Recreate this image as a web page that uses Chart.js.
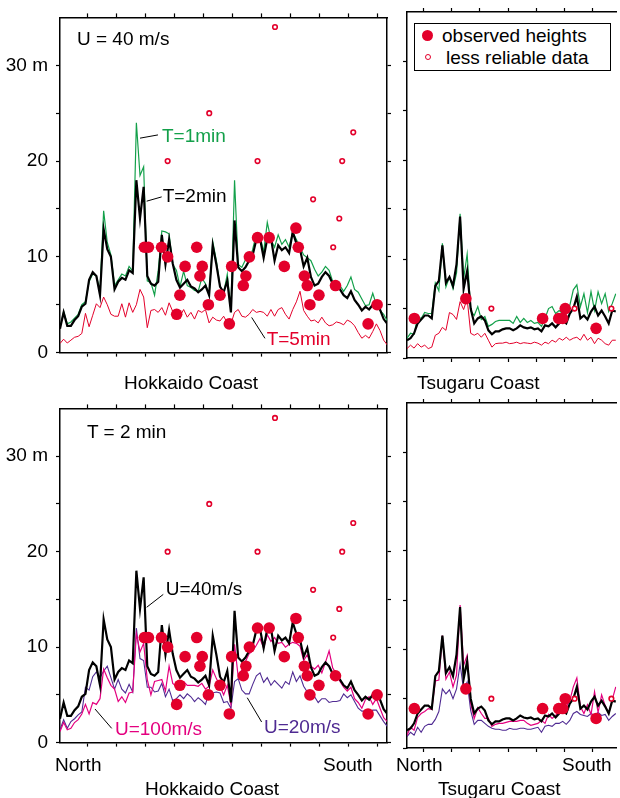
<!DOCTYPE html>
<html>
<head>
<meta charset="utf-8">
<script src="https://cdn.jsdelivr.net/npm/chart.js"></script>
<style>
html, body { margin: 0; padding: 0; background: #fff; overflow: hidden; }
#page { position: relative; width: 620px; height: 798px; overflow: hidden; background: #fff; }
#page canvas { position: absolute; }
.txt { position: absolute; font: 19px "Liberation Sans", Arial, sans-serif; line-height: 19px; white-space: nowrap; color: #000; }
#legend { position: absolute; left: 414px; top: 23px; width: 197px; height: 48px; box-sizing: border-box; border: 1.4px solid #000; background: #fff; }
.dot { position: absolute; border-radius: 50%; box-sizing: border-box; }
</style>
</head>
<body>
<div id="page"></div>
<script>
// === Donnees ===
const STEP = 1.25; // km entre deux points de calcul

// Hokkaido (nord -> sud), hauteurs calculees en m
const hokT1 = [2.6, 4.3, 3.0, 3.2, 3.6, 4.0, 5.0, 5.3, 7.4, 8.2,
  8.0, 6.5, 14.8, 11.5, 10.2, 7.0, 7.6, 8.2, 8.0, 9.0,
  8.5, 24.0, 18.5, 19.4, 7.5, 7.3, 6.0, 8.5, 12.7, 12.6,
  12.4, 9.2, 8.6, 6.9, 8.5, 7.0, 6.8, 6.5, 6.4, 7.8,
  7.2, 6.0, 11.6, 9.6, 6.9, 6.2, 8.2, 4.4, 18.0, 9.2,
  8.9, 9.7, 9.5, 10.8, 12.4, 12.2, 10.5, 13.6, 11.8, 11.0,
  12.3, 11.3, 11.8, 11.0, 12.6, 11.8, 11.0, 10.2, 9.9, 9.6,
  8.7, 8.0, 8.4, 9.0, 8.6, 7.4, 7.4, 7.0, 6.4, 7.0,
  7.9, 6.6, 6.3, 5.6, 4.9, 5.0, 6.2, 5.0, 4.4, 4.0, 3.3];
const hokT2 = [2.5, 4.2, 2.8, 2.8, 3.4, 3.8, 4.8, 5.1, 7.6, 8.4,
  8.0, 6.0, 12.9, 10.8, 10.0, 6.6, 7.4, 7.8, 7.6, 8.6,
  8.3, 18.0, 14.0, 17.3, 8.0, 7.2, 7.0, 7.4, 12.3, 9.2,
  11.8, 9.3, 7.6, 6.8, 7.2, 7.6, 6.9, 6.7, 6.3, 6.6,
  7.0, 6.0, 11.2, 9.2, 6.9, 6.3, 7.5, 4.2, 13.8, 8.9,
  8.5, 8.9, 9.6, 10.2, 11.8, 11.9, 9.9, 11.9, 12.0, 9.6,
  11.2, 10.7, 11.0, 10.4, 12.6, 11.4, 10.8, 9.0, 9.9, 7.9,
  7.0, 7.2, 7.9, 8.4, 8.0, 7.2, 7.0, 6.6, 6.0, 5.7,
  6.4, 5.5, 5.0, 4.4, 4.8, 4.5, 5.0, 4.7, 4.5, 3.5, 3.0];
const hokT5 = [0.95, 1.4, 1.0, 1.3, 1.6, 1.7, 2.0, 4.1, 2.7, 3.9,
  5.1, 4.7, 5.8, 5.0, 4.0, 3.8, 3.8, 5.1, 3.7, 5.2,
  4.2, 5.0, 6.6, 5.8, 2.6, 4.4, 4.5, 4.2, 4.7, 3.9,
  5.2, 4.3, 4.2, 3.8, 4.5, 3.7, 4.2, 3.5, 4.4, 4.2,
  4.5, 3.1, 3.7, 3.4, 3.3, 3.8, 3.1, 3.0, 4.2, 4.5,
  3.8, 3.7, 4.0, 4.5, 4.2, 4.3, 4.2, 3.8, 4.5, 3.8,
  4.5, 4.7, 4.0, 3.5, 4.5, 5.3, 6.4, 4.4, 3.8, 3.3,
  3.4, 3.1, 3.7, 3.1, 2.8, 2.9, 3.2, 3.1, 2.9, 3.4,
  3.2, 2.8, 2.1, 1.5, 1.8, 1.5, 2.2, 3.0, 2.3, 1.3, 0.8];
const hokU100 = [1.15, 2.1, 1.35, 1.5, 2.1, 2.4, 3.0, 4.0, 3.0, 4.2,
  4.0, 4.6, 7.7, 6.8, 6.0, 5.6, 4.3, 4.8, 4.2, 5.2,
  5.3, 11.4, 9.5, 10.4, 6.6, 5.0, 6.4, 6.5, 6.6, 5.4,
  8.0, 6.2, 5.9, 6.1, 6.4, 6.0, 6.0, 6.0, 5.9, 6.2,
  5.6, 5.9, 7.6, 6.7, 5.9, 5.0, 6.0, 4.0, 10.3, 6.9,
  7.6, 8.5, 9.3, 9.6, 10.2, 10.9, 9.9, 11.3, 10.6, 11.0,
  10.4, 10.5, 10.0, 10.3, 10.5, 10.4, 10.1, 8.6, 9.2, 8.0,
  7.7, 8.1, 7.3, 8.4, 9.6, 7.8, 7.2, 6.4, 5.8, 5.4,
  5.8, 4.6, 4.2, 3.6, 4.5, 4.8, 4.0, 4.6, 3.6, 2.6, 2.2];
const hokU20 = [1.35, 2.4, 1.5, 2.2, 2.5, 2.9, 3.2, 5.8, 5.5, 6.9,
  7.4, 6.8, 7.5, 8.0, 6.8, 5.6, 6.6, 5.6, 5.2, 6.1,
  5.3, 12.0, 8.8, 8.6, 5.8, 5.8, 5.3, 5.4, 6.2, 4.8,
  5.6, 4.4, 4.6, 5.0, 4.6, 5.1, 4.8, 4.3, 4.7, 4.4,
  4.0, 5.3, 5.2, 5.3, 5.2, 4.2, 4.3, 3.6, 6.4, 6.7,
  5.5, 5.1, 5.1, 6.1, 7.0, 7.3, 6.3, 6.8, 6.0, 6.5,
  6.1, 5.7, 6.4, 6.1, 7.4, 6.4, 7.0, 5.9, 5.3, 4.6,
  4.8, 4.2, 4.6, 4.6, 4.2, 4.3, 4.3, 4.4, 5.1, 4.7,
  5.0, 4.3, 3.6, 3.3, 3.3, 2.9, 3.4, 3.4, 2.8, 2.2, 1.7];

// Tsugaru (nord -> sud)
const tsuT1 = [2.0, 2.5, 2.4, 4.2, 4.0, 4.6, 4.5, 4.5, 7.6, 6.8,
  11.6, 7.2, 8.2, 7.0, 8.6, 14.6, 8.0, 10.5, 4.8, 4.3,
  5.2, 3.9, 4.2, 3.2, 3.4, 3.7, 3.8, 3.8, 3.8, 3.8,
  3.5, 4.2, 3.6, 4.0, 3.6, 3.8, 3.5, 3.6, 3.2, 4.0,
  5.0, 5.2, 4.5, 4.8, 4.5, 5.0, 5.3, 6.9, 7.4, 5.2,
  6.5, 4.6, 6.7, 4.8, 6.7, 5.5, 6.5, 4.7, 5.5, 6.5];
const tsuT2 = [1.8, 2.0, 2.5, 3.5, 3.9, 4.3, 4.3, 4.0, 7.3, 7.8,
  11.4, 7.6, 8.2, 7.3, 9.5, 14.3, 7.0, 8.8, 5.0, 3.5,
  4.0, 4.2, 3.8, 2.8, 2.4, 2.7, 2.7, 2.9, 3.0, 3.0,
  2.8, 3.0, 3.3, 3.1, 3.0, 3.1, 2.9, 3.0, 2.7, 3.3,
  3.2, 3.5, 3.1, 3.5, 3.8, 3.5, 4.5, 5.0, 6.2, 4.0,
  4.3, 3.9, 4.7, 5.2, 4.3, 4.8, 4.2, 3.5, 4.8, 4.7];
const tsuT5 = [0.95, 1.3, 1.0, 1.45, 1.1, 1.3, 0.95, 1.1, 2.3, 2.5,
  3.1, 2.8, 4.6, 4.4, 3.9, 5.7, 4.9, 6.0, 2.5, 2.3,
  2.5, 2.1, 2.5, 1.8, 1.1, 1.45, 1.5, 1.5, 1.6, 1.45,
  1.5, 1.6, 1.45, 1.55, 1.5, 1.45, 1.6, 1.5, 1.3, 1.6,
  1.45, 1.8, 1.6, 2.0, 1.8, 2.1, 1.8, 2.0, 2.1, 1.8,
  2.4, 1.8, 2.1, 1.45, 2.0, 1.8, 1.45, 1.3, 1.8, 1.8];
const tsuU100 = [1.3, 2.1, 1.8, 3.1, 3.5, 3.7, 4.0, 3.9, 6.8, 6.9,
  11.4, 7.0, 7.7, 6.2, 7.4, 14.5, 8.4, 9.4, 4.5, 3.0,
  4.1, 3.5, 3.0, 3.0, 2.2, 2.4, 2.5, 2.5, 2.6, 2.7,
  2.7, 2.7, 2.8, 2.8, 2.5, 2.3, 2.4, 2.5, 2.8, 2.5,
  3.4, 3.0, 3.3, 3.7, 3.7, 4.2, 4.8, 6.2, 7.1, 4.2,
  3.5, 4.4, 3.4, 5.7, 3.6, 5.4, 4.3, 3.5, 4.9, 6.2];
const tsuU20 = [1.15, 1.6, 1.3, 2.1, 1.6, 2.2, 2.4, 2.4, 2.9, 3.7,
  6.0, 5.5, 5.9, 5.0, 6.0, 8.5, 5.9, 6.7, 3.8, 2.4,
  2.8, 2.8, 2.5, 2.2, 2.0, 1.9, 1.9, 1.8, 1.8, 2.0,
  1.9, 1.9, 2.0, 2.0, 1.9, 1.9, 2.0, 2.1, 1.6, 2.2,
  2.3, 2.2, 2.5, 2.5, 2.7, 2.4, 2.8, 3.5, 3.7, 3.4,
  3.3, 3.2, 3.5, 3.3, 3.6, 3.3, 3.4, 2.8, 3.2, 3.5];

// Hauteurs observees (km, m)
const hokObsKm = [29.0, 30.4, 34.9, 37.0, 40.1, 41.2, 43.0, 47.0, 48.1, 48.9, 51.0, 55.0, 58.2, 59.0, 63.0,
  63.9, 65.1, 67.9, 71.9, 77.1, 81.1, 81.9, 84.0, 85.0, 85.9, 89.0, 94.7, 105.9, 109.0];
const hokObsM = [11, 11, 11, 10, 4, 6, 9, 11, 8, 9, 5, 6, 3, 9, 7, 8, 10, 12, 12, 9, 13, 11, 8, 7, 5, 6, 7, 3, 5];
const hokLessKm = [37.0, 51.3, 67.9, 73.9, 87.0, 93.9, 96.0, 97.0, 100.8];
const hokLessM = [20, 25, 20, 34, 16, 11, 14, 20, 23];
const tsuObsKm = [2.6, 20.8, 47.9, 53.6, 55.0, 55.9, 66.8];
const tsuObsM = [4, 6, 4, 4, 4, 5, 3];
const tsuLessKm = [29.8, 59.2, 72.2];
const tsuLessM = [5, 5, 5];

// Axes
const yTicks = [0, 5, 10, 15, 20, 25, 30];
const hokXTicks = [9.3, 19.3, 29.3, 39.3, 49.3, 59.3, 69.3, 79.3, 89.3, 99.3, 109.3];
const tsuXTicks = [5.7, 15.7, 25.7, 35.7, 45.7, 55.7, 65.7];
const HOK_MAX = 112.4, TSU_MAX = 73.9, Y_MAX = 35;

// === Styles ===
const FONT = '"Liberation Sans", Arial, sans-serif';
const GREEN = '#13a04a', RED = '#e3002b', MAGENTA = '#e4007f', PURPLE = '#4f2a92', BLACK = '#000';
const page = document.getElementById('page');

function ligne(values, color, width) {
  return {
    data: values.map((v, i) => ({ x: i * STEP, y: v })),
    showLine: true, borderColor: color, borderWidth: width,
    pointRadius: 0, fill: false, tension: 0
  };
}
function pleins(km, m) {
  return {
    data: km.map((k, i) => ({ x: k, y: m[i] })),
    pointRadius: 5.8, backgroundColor: RED, borderWidth: 0
  };
}
function creux(km, m) {
  return {
    data: km.map((k, i) => ({ x: k, y: m[i] })),
    pointRadius: 2.3, backgroundColor: '#fff', borderColor: RED, borderWidth: 1.6
  };
}

// traits de renvoi vers les etiquettes
const renvois = {
  id: 'renvois',
  afterDatasetsDraw(chart, args, opts) {
    const { ctx } = chart;
    const x = chart.scales.x, y = chart.scales.y;
    (opts.lines || []).forEach(l => {
      ctx.save();
      ctx.strokeStyle = '#000';
      ctx.lineWidth = 1;
      ctx.beginPath();
      ctx.moveTo(x.getPixelForValue(l[0]), y.getPixelForValue(l[1]));
      ctx.lineTo(x.getPixelForValue(l[2]), y.getPixelForValue(l[3]));
      ctx.stroke();
      ctx.restore();
    });
  }
};

function texte(str, left, baseline, color) {
  const el = document.createElement('div');
  el.className = 'txt';
  el.textContent = str;
  el.style.left = left + 'px';
  el.style.top = (baseline - 16) + 'px';
  if (color) el.style.color = color;
  page.appendChild(el);
  return el;
}

function panneau(box, xMax, xTicks, datasets, opt) {
  const pad = { l: opt.left ? 60 : 10, r: opt.right ? 10 : 0, t: 14, b: 14 };
  const cv = document.createElement('canvas');
  cv.width = box.r - box.l + pad.l + pad.r;
  cv.height = box.b - box.t + pad.t + pad.b;
  const offX = box.l - pad.l, offY = box.t - pad.t;
  cv.style.left = offX + 'px';
  cv.style.top = offY + 'px';
  page.appendChild(cv);

  const grid = { display: true, drawOnChartArea: false, drawTicks: true, tickLength: 4, tickColor: '#000', tickWidth: 1.2 };
  const border = { display: true, color: '#000', width: 1.5 };
  const xAxe = pos => ({
    type: 'linear', position: pos, min: 0, max: xMax,
    afterBuildTicks: s => { s.ticks = xTicks.map(v => ({ value: v })); },
    afterFit: s => { s.height = pos === 'top' ? pad.t : pad.b; },
    ticks: { display: false, autoSkip: false },
    grid: grid, border: border
  });
  const yAxe = (pos, labels) => ({
    type: 'linear', position: pos, min: 0, max: Y_MAX,
    afterBuildTicks: s => { s.ticks = yTicks.map(v => ({ value: v })); },
    afterFit: s => { s.width = pos === 'left' ? pad.l : pad.r; },
    ticks: {
      display: labels, autoSkip: false, padding: 8, color: '#000',
      font: { family: FONT, size: 19 },
      callback: v => v === 30 ? '30 m' : (v % 10 === 0 ? String(v) : '')
    },
    grid: grid, border: border
  });

  const scales = { x: xAxe('bottom'), xTop: xAxe('top'), y: yAxe('left', opt.left) };
  if (opt.right) scales.yRight = yAxe('right', false);

  const chart = new Chart(cv, {
    type: 'scatter',
    data: { datasets: datasets },
    options: {
      responsive: false, animation: false, events: [],
      layout: { padding: 0 },
      scales: scales,
      plugins: { legend: { display: false }, tooltip: { enabled: false }, renvois: { lines: opt.lines || [] } }
    },
    plugins: [renvois]
  });

  (opt.notes || []).forEach(n => {
    texte(n[2], offX + chart.scales.x.getPixelForValue(n[0]), offY + chart.scales.y.getPixelForValue(n[1]), n[3]);
  });
  return chart;
}

// === Les quatre panneaux ===
panneau({ l: 60, t: 12, r: 387, b: 358 }, HOK_MAX, hokXTicks, [
  pleins(hokObsKm, hokObsM), creux(hokLessKm, hokLessM),
  ligne(hokT2, BLACK, 2.2), ligne(hokT1, GREEN, 1.2), ligne(hokT5, RED, 1.0)
], {
  left: true, right: true,
  lines: [[27.5, 22.39, 33.68, 22.73], [29.79, 15.81, 34.95, 16.26], [65.88, 3.67, 70.45, 1.49]],
  notes: [[5.84, 32.07, 'U = 40 m/s', BLACK], [35.05, 21.95, 'T=1min', GREEN],
          [35.29, 15.71, 'T=2min', BLACK], [71.03, 0.81, 'T=5min', RED]]
});

panneau({ l: 407, t: 12, r: 622, b: 358 }, TSU_MAX, tsuXTicks, [
  pleins(tsuObsKm, tsuObsM), creux(tsuLessKm, tsuLessM),
  ligne(tsuT2, BLACK, 2.2), ligne(tsuT1, GREEN, 1.2), ligne(tsuT5, RED, 1.0)
], { left: false, right: false });

panneau({ l: 60, t: 403, r: 387, b: 748 }, HOK_MAX, hokXTicks, [
  pleins(hokObsKm, hokObsM), creux(hokLessKm, hokLessM),
  ligne(hokT2, BLACK, 2.2), ligne(hokU100, MAGENTA, 1.2), ligne(hokU20, PURPLE, 1.1)
], {
  left: true, right: true,
  lines: [[29.79, 14.17, 35.5, 15.52], [12.03, 3.52, 17.77, 1.49], [64.36, 4.70, 69.3, 2.16]],
  notes: [[9.28, 31.86, 'T = 2 min', BLACK], [36.32, 15.42, 'U=40m/s', BLACK],
          [18.9, 0.81, 'U=100m/s', MAGENTA], [70.1, 0.98, 'U=20m/s', PURPLE]]
});

panneau({ l: 407, t: 403, r: 622, b: 748 }, TSU_MAX, tsuXTicks, [
  pleins(tsuObsKm, tsuObsM), creux(tsuLessKm, tsuLessM),
  ligne(tsuT2, BLACK, 2.2), ligne(tsuU100, MAGENTA, 1.2), ligne(tsuU20, PURPLE, 1.1)
], { left: false, right: false });

// === Textes hors cadre ===
texte('Hokkaido Coast', 124, 389);
texte('Tsugaru Coast', 417, 389);
texte('North', 55, 771);
texte('South', 323, 771);
texte('Hokkaido Coast', 145, 795);
texte('North', 396, 771);
texte('South', 562, 771);
texte('Tsugaru Coast', 438, 795);

// === Legende ===
const leg = document.createElement('div');
leg.id = 'legend';
page.appendChild(leg);
const d1 = document.createElement('div');
d1.className = 'dot';
Object.assign(d1.style, { left: '421.8px', top: '29.8px', width: '11.6px', height: '11.6px', background: RED });
page.appendChild(d1);
const d2 = document.createElement('div');
d2.className = 'dot';
Object.assign(d2.style, { left: '424.8px', top: '53.8px', width: '6px', height: '6px', background: '#fff', border: '1.6px solid ' + RED });
page.appendChild(d2);
texte('observed heights', 442, 42);
texte('less reliable data', 446, 63.5);
</script>
</body>
</html>
